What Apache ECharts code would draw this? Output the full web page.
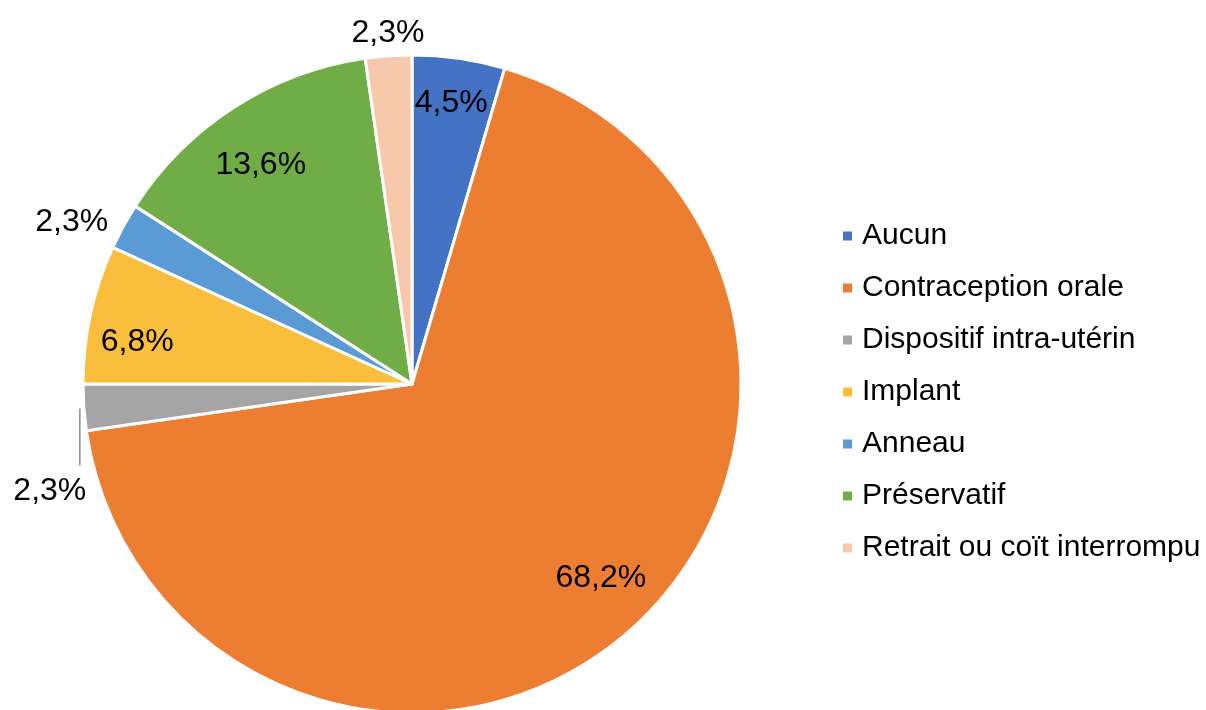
<!DOCTYPE html>
<html>
<head>
<meta charset="utf-8">
<script src="https://cdn.jsdelivr.net/npm/echarts@6/dist/echarts.min.js"></script>
<style>
  html, body { margin: 0; padding: 0; background: #fff; }
  #main { width: 1206px; height: 710px; }
</style>
</head>
<body>
<div id="main"></div>
<script>
// données (effectifs sur 44 répondantes)
var categories = ['Aucun', 'Contraception orale', 'Dispositif intra-utérin', 'Implant', 'Anneau', 'Préservatif', 'Retrait ou coït interrompu'];
var counts = [2, 30, 1, 3, 1, 6, 1];
var colors = ['#4472C4', '#ED7D31', '#A5A5A5', '#F9BF3C', '#5B9BD5', '#70AD47', '#F7C8AB'];
// quelles étiquettes sont dedans / dehors
var insideLabels = [true, true, false, true, false, true, false];
var outsideLabels = [false, false, false, false, true, false, true];

var chartDom = document.getElementById('main');
var myChart = echarts.init(chartDom);

var FONT = '"Liberation Sans", Arial, Helvetica, sans-serif';
var CENTER = [412, 384];
var R = 329;

// petits décalages des étiquettes (placement "au mieux" comme dans Excel)
var labelShift = {
  0: [0, -8],
  1: [8, -14],
  3: [-5, 17],
  4: [-20, 13],
  5: [-2, 13],
  6: [2, 13]
};

function fmtPct(p) {
  return p.percent.toFixed(1).replace('.', ',') + '%';
}

var mainData = categories.map(function (name, i) {
  var item = { name: name, value: counts[i], itemStyle: { color: colors[i] } };
  if (i === 2) {
    item.label = { show: true, position: 'outside', overflow: 'none' };
    item.labelLine = { show: true };
  }
  return item;
});

function labelData(flags) {
  return categories.map(function (name, i) {
    return { name: name, value: counts[i], label: { show: flags[i] } };
  });
}

function shiftLayout(params) {
  var s = labelShift[params.dataIndex];
  if (!s) return;
  return { dx: s[0], dy: s[1] };
}

var labelStyle = {
  formatter: fmtPct,
  fontSize: 32,
  fontFamily: FONT,
  color: '#000'
};

var option = {
  animation: false,
  backgroundColor: '#fff',
  legend: {
    orient: 'vertical',
    left: 841,
    top: 221,
    padding: 0,
    itemWidth: 11,
    itemHeight: 11,
    itemGap: 22,
    icon: 'rect',
    selectedMode: false,
    data: categories.map(function (name, i) {
      return { name: name, itemStyle: { color: colors[i] } };
    }),
    textStyle: {
      fontSize: 30,
      lineHeight: 30,
      fontFamily: FONT,
      color: '#000',
      padding: [0, 0, 0, 4]
    }
  },
  series: [
    {
      type: 'pie',
      center: CENTER,
      radius: R,
      startAngle: 90,
      clockwise: true,
      silent: true,
      data: mainData,
      itemStyle: { borderColor: '#fff', borderWidth: 3 },
      label: Object.assign({ show: false }, labelStyle),
      labelLine: { show: false, length: 20, length2: 10, lineStyle: { color: '#8c8c8c', width: 1.5 } },
      labelLayout: function (params) {
        if (params.dataIndex !== 2 || !params.labelLinePoints) return;
        var p = params.labelLinePoints[0];
        return {
          x: p[0] - 34,
          y: p[1] + 84,
          align: 'center',
          verticalAlign: 'middle',
          labelLinePoints: [[p[0] - 4, p[1] + 1], [p[0] - 4, p[1] + 58], [p[0] - 4, p[1] + 58]]
        };
      }
    },
    {
      type: 'pie',
      center: CENTER,
      radius: [R * 0.66, R],
      startAngle: 90,
      silent: true,
      data: labelData(insideLabels),
      itemStyle: { color: 'rgba(0,0,0,0)' },
      label: Object.assign({ position: 'inside' }, labelStyle),
      labelLine: { show: false },
      labelLayout: shiftLayout
    },
    {
      type: 'pie',
      center: CENTER,
      radius: [R, R * 1.2],
      startAngle: 90,
      silent: true,
      data: labelData(outsideLabels),
      itemStyle: { color: 'rgba(0,0,0,0)' },
      label: Object.assign({ position: 'inside' }, labelStyle),
      labelLine: { show: false },
      labelLayout: shiftLayout
    }
  ]
};

myChart.setOption(option);
</script>
</body>
</html>
